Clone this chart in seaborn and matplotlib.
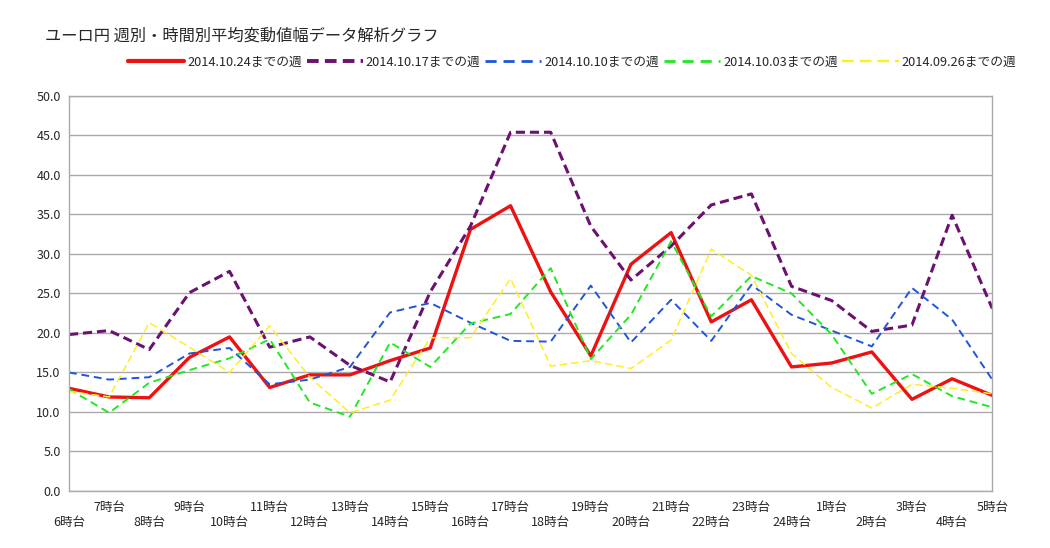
import numpy as np
import pandas as pd
import seaborn as sns
import matplotlib.pyplot as plt

# hours shown on the x axis, 6時台 .. 5時台
hours = [6, 7, 8, 9, 10, 11, 12, 13, 14, 15, 16, 17, 18, 19, 20, 21, 22, 23, 24, 1, 2, 3, 4, 5]
hour_labels = [f'{h}時台' for h in hours]

# average range per hour for each week
week_1024 = [13.0, 11.9, 11.8, 16.9, 19.5, 13.1, 14.7, 14.7, 16.5, 18.1, 33.1, 36.1,
             25.2, 17.1, 28.7, 32.7, 21.4, 24.2, 15.7, 16.2, 17.6, 11.6, 14.2, 12.1]
week_1017 = [19.8, 20.3, 17.9, 25.1, 27.8, 18.2, 19.5, 15.9, 13.8, 25.2, 33.5, 45.4,
             45.4, 33.5, 26.7, 31.0, 36.2, 37.6, 25.9, 24.1, 20.2, 21.0, 34.9, 23.1]
week_1010 = [15.0, 14.1, 14.4, 17.4, 18.1, 13.5, 14.1, 15.7, 22.6, 23.8, 21.3, 19.0,
             18.9, 26.0, 18.8, 24.2, 19.0, 26.1, 22.3, 20.3, 18.3, 25.7, 21.7, 14.1]
week_1003 = [12.9, 9.9, 13.7, 15.3, 16.8, 19.2, 11.2, 9.4, 18.8, 15.7, 21.2, 22.4,
             28.2, 16.7, 22.3, 31.6, 22.1, 27.2, 25.0, 19.8, 12.3, 14.8, 12.0, 10.6]
week_0926 = [12.6, 11.9, 21.3, 18.2, 15.0, 20.9, 14.4, 9.9, 11.5, 19.4, 19.4, 26.9,
             15.8, 16.5, 15.5, 19.1, 30.6, 27.3, 17.4, 13.1, 10.5, 13.5, 13.0, 12.3]

series_names = ['2014.10.24までの週', '2014.10.17までの週', '2014.10.10までの週',
                '2014.10.03までの週', '2014.09.26までの週']
series_values = [week_1024, week_1017, week_1010, week_1003, week_0926]

colors = ['#ee1111', '#6b1170', '#1f55d8', '#22e822', '#ffee22']
widths = [2.4, 2.2, 1.4, 1.4, 1.1]
dashes = [(None, None), (3, 1.6), (4, 2.5), (4, 2.5), (5, 2.5)]

sns.set_style('white')
plt.rcParams['font.family'] = ['Noto Sans CJK JP', 'DejaVu Sans']

fig = plt.figure(figsize=(10.5, 5.48), dpi=100)
ax = fig.add_axes([0.0657, 0.104, 0.8793, 0.721])

x = np.arange(len(hours))
for name, vals, c, lw, d in zip(series_names, series_values, colors, widths, dashes):
    df = pd.DataFrame({'x': x, 'y': vals})
    sns.lineplot(data=df, x='x', y='y', ax=ax, color=c, linewidth=lw, label=name)
    if d[0] is not None:
        ax.get_lines()[-1].set_dashes(d)

ax.set_xlim(0, len(hours) - 1)
ax.set_ylim(0, 50)
ax.set_yticks(np.arange(0, 50.1, 5))
ax.set_yticklabels([f'{v:.1f}' for v in np.arange(0, 50.1, 5)], fontsize=9)
ax.set_xticks(x)
ax.set_xticklabels([lab + '\n' if i % 2 else '\n' + lab for i, lab in enumerate(hour_labels)],
                   fontsize=9, linespacing=1.25)
ax.set_xlabel('')
ax.set_ylabel('')
ax.yaxis.grid(True, color='#aaaaaa', linewidth=1)
ax.tick_params(axis='x', direction='out', length=5, color='#aaaaaa', pad=2)
ax.tick_params(axis='y', direction='out', length=0, pad=6)
for s in ax.spines.values():
    s.set_color('#aaaaaa')
    s.set_linewidth(1)

fig.text(0.043, 0.935, 'ユーロ円 週別・時間別平均変動値幅データ解析グラフ', fontsize=11.7, va='center')
leg = ax.legend(loc='center', bbox_to_anchor=(0.545, 0.887), bbox_transform=fig.transFigure,
                ncol=5, frameon=False, fontsize=9.2, handlelength=4.4, handletextpad=0.25,
                columnspacing=0.35)
for h in leg.get_lines():
    h.set_linewidth(h.get_linewidth() + 0.6)

fig.savefig('out.png', dpi=100)
